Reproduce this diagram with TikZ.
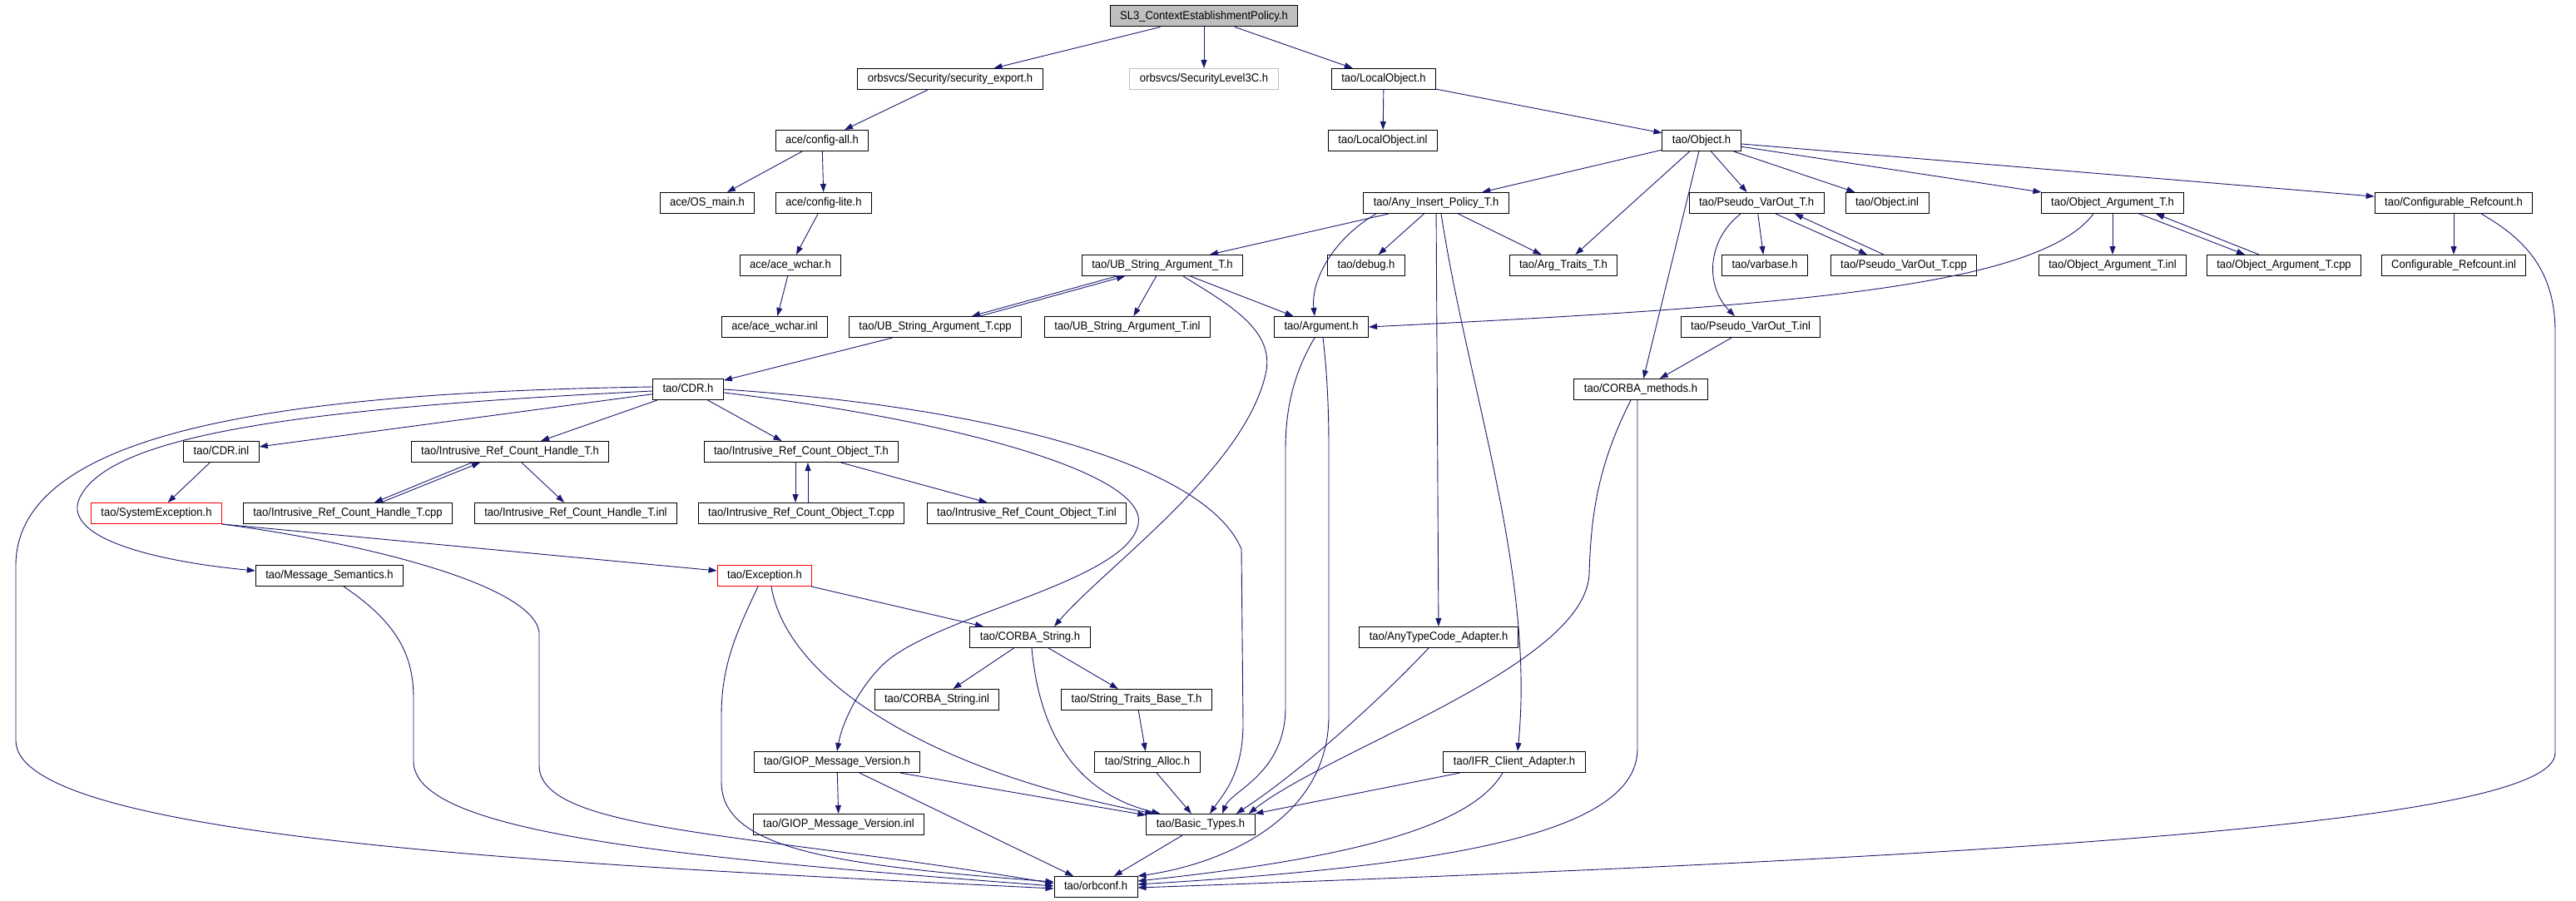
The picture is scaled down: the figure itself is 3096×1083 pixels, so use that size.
\documentclass[tikz,border=0pt]{standalone}
\usepackage{fontspec}
\setmainfont{Liberation Sans}
\newfontfamily\graphfont[FakeStretch=0.93]{Liberation Sans}
\usetikzlibrary{arrows.meta,calc}
\definecolor{edgeblue}{HTML}{191970}
\definecolor{rootgray}{HTML}{BFBFBF}

\begin{document}
\begin{tikzpicture}[x=1pt,y=-1pt,
    hfile/.style={draw=black,fill=white,line width=1pt,minimum height=25pt,inner xsep=12pt,inner ysep=0pt,
        text height=10pt,text depth=2.5pt,font=\graphfont\fontsize{14}{16}\selectfont},
    rootfile/.style={hfile,fill=rootgray},
    nodoc/.style={hfile,draw=rootgray},
    redfile/.style={hfile,draw=red},
    incl/.style={draw=edgeblue,line width=0.9pt,-{Triangle[length=10pt,width=7pt]}}]
\fill[white] (0,0) rectangle (3096,1083);
\useasboundingbox (0,0) rectangle (3096,1083);

\node[rootfile] (sl3) at (1447,19.5) {SL3\_ContextEstablishmentPolicy.h};
\node[hfile] (secexp) at (1142,95) {orbsvcs/Security/security\_export.h};
\node[nodoc] (sl3c) at (1447,95) {orbsvcs/SecurityLevel3C.h};
\node[hfile] (localobj) at (1663,95) {tao/LocalObject.h};
\node[hfile] (configall) at (988,169) {ace/config-all.h};
\node[hfile] (localobjinl) at (1662,169) {tao/LocalObject.inl};
\node[hfile] (object) at (2045,169) {tao/Object.h};
\node[hfile] (osmain) at (850,244) {ace/OS\_main.h};
\node[hfile] (configlite) at (990,244) {ace/config-lite.h};
\node[hfile] (anyins) at (1726,244) {tao/Any\_Insert\_Policy\_T.h};
\node[hfile] (pseudoh) at (2111,244) {tao/Pseudo\_VarOut\_T.h};
\node[hfile] (objinl) at (2268,244) {tao/Object.inl};
\node[hfile] (objargh) at (2539,244) {tao/Object\_Argument\_T.h};
\node[hfile] (confrefh) at (2949,244) {tao/Configurable\_Refcount.h};
\node[hfile] (acewchar) at (950,319) {ace/ace\_wchar.h};
\node[hfile] (ubstrh) at (1397,319) {tao/UB\_String\_Argument\_T.h};
\node[hfile] (debug) at (1642,319) {tao/debug.h};
\node[hfile] (argtraits) at (1879,319) {tao/Arg\_Traits\_T.h};
\node[hfile] (varbase) at (2121,319) {tao/varbase.h};
\node[hfile] (pseudocpp) at (2288,319) {tao/Pseudo\_VarOut\_T.cpp};
\node[hfile] (objarginl) at (2539,319) {tao/Object\_Argument\_T.inl};
\node[hfile] (objargcpp) at (2745,319) {tao/Object\_Argument\_T.cpp};
\node[hfile] (confrefinl) at (2949,319) {Configurable\_Refcount.inl};
\node[hfile] (acewcharinl) at (931,393) {ace/ace\_wchar.inl};
\node[hfile] (ubstrcpp) at (1124,393) {tao/UB\_String\_Argument\_T.cpp};
\node[hfile] (ubstrinl) at (1355,393) {tao/UB\_String\_Argument\_T.inl};
\node[hfile] (argument) at (1588,393) {tao/Argument.h};
\node[hfile] (pseudoinl) at (2104,393) {tao/Pseudo\_VarOut\_T.inl};
\node[hfile] (cdrh) at (827,468) {tao/CDR.h};
\node[hfile] (corbameth) at (1972,468) {tao/CORBA\_methods.h};
\node[hfile] (cdrinl) at (266,543) {tao/CDR.inl};
\node[hfile] (irchh) at (613,543) {tao/Intrusive\_Ref\_Count\_Handle\_T.h};
\node[hfile] (ircoh) at (963,543) {tao/Intrusive\_Ref\_Count\_Object\_T.h};
\node[redfile] (sysexc) at (188,617) {tao/SystemException.h};
\node[hfile] (irchcpp) at (418,617) {tao/Intrusive\_Ref\_Count\_Handle\_T.cpp};
\node[hfile] (irchinl) at (692,617) {tao/Intrusive\_Ref\_Count\_Handle\_T.inl};
\node[hfile] (ircocpp) at (963,617) {tao/Intrusive\_Ref\_Count\_Object\_T.cpp};
\node[hfile] (ircoinl) at (1234,617) {tao/Intrusive\_Ref\_Count\_Object\_T.inl};
\node[hfile] (msgsem) at (396,692) {tao/Message\_Semantics.h};
\node[redfile] (exc) at (919,692) {tao/Exception.h};
\node[hfile] (corbastr) at (1238,766) {tao/CORBA\_String.h};
\node[hfile] (anytc) at (1729,766) {tao/AnyTypeCode\_Adapter.h};
\node[hfile] (corbastrinl) at (1126,841) {tao/CORBA\_String.inl};
\node[hfile] (strtraits) at (1366,841) {tao/String\_Traits\_Base\_T.h};
\node[hfile] (giop) at (1006,916) {tao/GIOP\_Message\_Version.h};
\node[hfile] (stralloc) at (1379,916) {tao/String\_Alloc.h};
\node[hfile] (ifr) at (1820,916) {tao/IFR\_Client\_Adapter.h};
\node[hfile] (giopinl) at (1008,991) {tao/GIOP\_Message\_Version.inl};
\node[hfile] (basictypes) at (1443,991) {tao/Basic\_Types.h};
\node[hfile] (orbconf) at (1317,1066) {tao/orbconf.h};

\draw[incl] (sl3) -- (secexp);
\draw[incl] (sl3) -- (sl3c);
\draw[incl] (sl3) -- (localobj);
\draw[incl] (secexp) -- (configall);
\draw[incl] (configall) -- (osmain);
\draw[incl] (configall) -- (configlite);
\draw[incl] (configlite) -- (acewchar);
\draw[incl] (acewchar) -- (acewcharinl);
\draw[incl] (localobj) -- (localobjinl);
\draw[incl] (localobj) -- (object);
\draw[incl] (object) -- (anyins);
\draw[incl] (object) -- (argtraits);
\draw[incl] (object) -- (corbameth);
\draw[incl] (object) -- (pseudoh);
\draw[incl] (object) -- (objinl);
\draw[incl] (object) -- (objargh);
\draw[incl] (object) -- (confrefh);
\draw[incl] (anyins) -- (ubstrh);
\draw[incl] (anyins) -- (debug);
\draw[incl] (anyins) -- (argtraits);
\draw[incl] (anyins) -- (anytc);
\draw[incl] (pseudoh) -- (varbase);
\draw[incl] (objargh) -- (objarginl);
\draw[incl] (confrefh) -- (confrefinl);
\draw[incl] (ubstrh) -- (ubstrinl);
\draw[incl] (ubstrh) -- (argument);
\draw[incl] (ubstrcpp) -- (cdrh);
\draw[incl] (pseudoinl) -- (corbameth);
\draw[incl] (cdrh) -- (cdrinl);
\draw[incl] (cdrh) -- (irchh);
\draw[incl] (cdrh) -- (ircoh);
\draw[incl] (cdrinl) -- (sysexc);
\draw[incl] (irchh) -- (irchinl);
\draw[incl] (ircoh) -- (ircoinl);
\draw[incl] (sysexc.south east) -- ($(exc.west)+(0,-6)$);
\draw[incl] (exc) -- (corbastr);
\draw[incl] (corbastr) -- (corbastrinl);
\draw[incl] (corbastr) -- (strtraits);
\draw[incl] (strtraits) -- (stralloc);
\draw[incl] (stralloc) -- (basictypes);
\draw[incl] (giop) -- (giopinl);
\draw[incl] (giop) -- (basictypes);
\draw[incl] (giop) -- (orbconf);
\draw[incl] (basictypes) -- (orbconf);
\draw[incl] (ifr) -- (basictypes);

\draw[incl] ($(ubstrh.south)+(-55,0)$) -- ($(ubstrcpp.north)+(44,0)$);
\draw[incl] ($(ubstrcpp.north)+(54,0)$) -- ($(ubstrh.south)+(-45,0)$);
\draw[incl] ($(pseudoh.south)+(23,0)$) -- ($(pseudocpp.north)+(-44,0)$);
\draw[incl] ($(pseudocpp.north)+(-24,0)$) -- ($(pseudoh.south)+(46,0)$);
\draw[incl] ($(objargh.south)+(32,0)$) -- ($(objargcpp.north)+(-47,0)$);
\draw[incl] ($(objargcpp.north)+(-30,0)$) -- ($(objargh.south)+(52,0)$);
\draw[incl] ($(irchh.south)+(-46,0)$) -- ($(irchcpp.north)+(32,0)$);
\draw[incl] ($(irchcpp.north)+(40,0)$) -- ($(irchh.south)+(-36,0)$);
\draw[incl] ($(ircoh.south)+(-7,0)$) -- ($(ircocpp.north)+(-7,0)$);
\draw[incl] ($(ircocpp.north)+(8,0)$) -- ($(ircoh.south)+(8,0)$);

\draw[incl] ($(anyins.south)+(-72,0)$) .. controls (1605,285) and (1575,335) .. ($(argument.north)+(-8,0)$);
\draw[incl] ($(anyins.south)+(6,0)$) .. controls (1765,470) and (1845,690) .. ($(ifr.north)+(4,0)$);
\draw[incl] ($(pseudoh.south)+(-19,0)$) .. controls (2050,290) and (2050,345) .. ($(pseudoinl.north)+(-19,0)$);
\draw[incl] ($(objargh.south)+(-23,0)$) .. controls (2450,345) and (2150,368) .. (argument.east);
\draw[incl] ($(confrefh.south)+(33,0)$) .. controls (3040,290) and (3071,330) .. (3071,400) -- (3071,905)
    .. controls (3071,990) and (2400,1030) .. ($(orbconf.east)+(0,1)$);
\draw[incl] ($(ubstrh.south)+(25,0)$) .. controls (1475,365) and (1530,395) .. (1522,445)
    .. controls (1500,560) and (1330,680) .. ($(corbastr.north)+(29,0)$);
\draw[incl] ($(argument.south)+(-8,0)$) .. controls (1560,440) and (1545,480) .. (1545,540) -- (1545,850)
    .. controls (1545,930) and (1480,950) .. ($(basictypes.north)+(26,0)$);
\draw[incl] ($(argument.south)+(2,0)$) .. controls (1594,440) and (1597,480) .. (1597,540) -- (1597,860)
    .. controls (1597,990) and (1460,1040) .. (orbconf.north east);
\draw[incl] ($(corbameth.south)+(-12,0)$) .. controls (1920,560) and (1912,620) .. (1910,690)
    .. controls (1905,800) and (1600,900) .. ($(basictypes.north east)+(-8,0)$);
\draw[incl] ($(corbameth.south)+(-4,0)$) -- (1968,900) .. controls (1968,1000) and (1750,1040) .. ($(orbconf.east)+(0,-3)$);
\draw[incl] ($(anytc.south)+(-12,0)$) .. controls (1660,840) and (1560,930) .. ($(basictypes.north east)+(-23,0)$);
\draw[incl] ($(ifr.south)+(-14,0)$) .. controls (1770,990) and (1640,1030) .. ($(orbconf.east)+(0,-7)$);
\draw[incl] ($(cdrh.west)+(0,-3)$) .. controls (330,472) and (19,520) .. (19,680) -- (19,890)
    .. controls (19,1010) and (700,1040) .. ($(orbconf.west)+(0,2)$);
\draw[incl] ($(cdrh.west)+(0,2)$) .. controls (380,490) and (130,520) .. (95,600)
    .. controls (75,650) and (200,676) .. ($(msgsem.west)+(0,-6)$);
\draw[incl] (cdrh.east) .. controls (1200,490) and (1450,560) .. (1492,660) -- (1494,870)
    .. controls (1494,930) and (1470,955) .. ($(basictypes.north)+(11,0)$);
\draw[incl] ($(cdrh.east)+(0,4)$) .. controls (1150,505) and (1380,570) .. (1368,630)
    .. controls (1355,700) and (1120,740) .. (1060,800) .. controls (1030,830) and (1012,870) .. (giop.north);
\draw[incl] ($(corbastr.south)+(2,0)$) .. controls (1250,890) and (1300,955) .. ($(basictypes.north west)+(17,0)$);
\draw[incl] ($(exc.south)+(8,0)$) .. controls (945,815) and (1110,925) .. ($(basictypes.north west)+(9,0)$);
\draw[incl] ($(exc.south)+(-8,0)$) .. controls (885,760) and (867,800) .. (867,860) -- (867,940)
    .. controls (867,1020) and (1000,1040) .. ($(orbconf.west)+(0,-6)$);
\draw[incl] (sysexc.south east) .. controls (420,650) and (640,700) .. (648,760) -- (648,920)
    .. controls (648,1000) and (900,1000) .. ($(orbconf.west)+(0,-4)$);
\draw[incl] ($(msgsem.south)+(17,0)$) .. controls (480,750) and (497,790) .. (497,840) -- (497,915)
    .. controls (497,1000) and (800,1030) .. ($(orbconf.west)+(0,-1)$);
\end{tikzpicture}
\end{document}
